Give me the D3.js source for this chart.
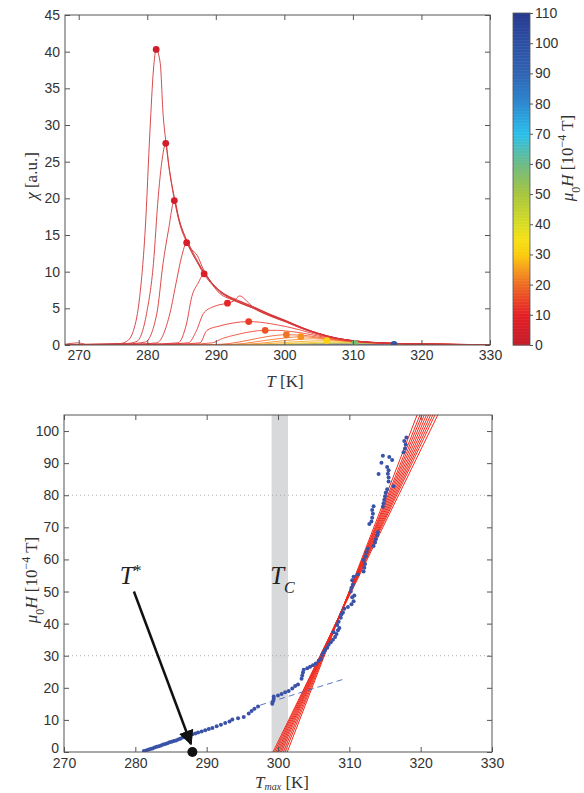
<!DOCTYPE html>
<html>
<head>
<meta charset="utf-8">
<script src="https://cdn.jsdelivr.net/npm/d3@7"></script>
<style>
body { margin: 0; background: #fff; }
svg { display: block; }
</style>
</head>
<body>
<div id="chart"></div>
<script>
// ---- data: top panel, chi(T) curves for several fields ----
const fieldH = [0, 1, 2, 3.5, 5.5, 8, 11, 14, 18, 21, 28, 55, 95];
const peakT   = [281.3, 282.7, 283.95, 285.75, 288.3, 291.7, 294.8, 297.2, 300.3, 302.4, 306.2, 310.3, 316.0];
const peakChi = [40.3, 27.5, 19.7, 13.95, 9.7, 5.7, 3.2, 2.0, 1.4, 1.13, 0.6, 0.23, 0.08];

const chiCurves = [
  [[268,0.1],[270,0.3],[271,0.1],[274,0.15],[276,0.2],[277,0.5],[278,2.0],[278.9,6.6],[279.7,15.7],[280.4,29.3],[280.9,37.5],[281.3,40.3],[281.9,38.4],[282.3,31.6],[282.7,27.8],[283.3,23.5],[284,19.9],[284.8,16.6],[285.8,14.2],[286.8,12.4],[288.3,9.9],[289.5,8.3],[290.6,7.2],[292,6.5],[293,6.1],[295.5,5.2],[297.9,4.2],[300.3,3.3],[302.5,2.4],[305,1.6],[307.6,0.95],[310,0.6],[312.5,0.38],[315,0.26],[317.5,0.18],[320,0.13],[325,0.08],[330,0.05]],
  [[268,0.05],[274,0.1],[277,0.2],[278.5,0.5],[279.9,4.3],[280.9,11.1],[281.6,20.2],[282.1,24.8],[282.7,27.5],[283.2,24],[284,19.6],[284.8,16.3],[285.8,13.9],[287,11.8],[288.3,9.6],[289.5,8.2],[290.6,7.0],[292,6.3],[293,5.9],[295.5,5.0],[297.9,4.05],[300.3,3.2],[302.5,2.35],[305,1.55],[307.6,0.93],[310,0.58],[312.5,0.37],[315,0.25],[320,0.13],[325,0.08],[330,0.05]],
  [[268,0.05],[276,0.1],[279.7,0.4],[281.4,4.3],[282.3,11.1],[283.1,15.7],[283.95,19.7],[284.6,17.2],[285.5,14.8],[286.5,12.6],[287.5,11],[288.3,9.8],[289.5,8.4],[290.6,7.3],[292,6.4],[293,6.0],[295.5,5.1],[297.9,4.1],[300.3,3.25],[302.5,2.35],[305,1.55],[307.6,0.93],[310,0.58],[315,0.25],[320,0.13],[330,0.05]],
  [[268,0.05],[278,0.1],[281.4,0.3],[283.3,4.3],[284.3,8.9],[285,12.0],[285.75,13.95],[286.5,13.0],[287.3,12.2],[288.1,10.5],[289,9.0],[290.6,7.4],[292,6.6],[293,6.2],[295.5,5.2],[297.9,4.15],[300.3,3.25],[302.5,2.4],[305,1.55],[307.6,0.93],[310,0.58],[315,0.25],[320,0.13],[330,0.05]],
  [[268,0.05],[280,0.1],[284.5,0.3],[285.75,3.0],[286.5,6.6],[287.4,8.4],[288.3,9.7],[289.2,8.7],[290.3,7.6],[291.5,6.8],[293,6.0],[295.5,5.0],[297.9,4.0],[300.3,3.15],[302.5,2.3],[305,1.5],[307.6,0.92],[310,0.57],[315,0.25],[320,0.13],[330,0.05]],
  [[268,0.05],[282,0.1],[286,0.3],[287.2,2.0],[288.2,4.3],[289.6,5.2],[290.6,5.5],[291.7,5.7],[292.6,6.0],[293.5,6.7],[294.5,6.0],[295.5,5.1],[297.9,3.95],[300.3,3.1],[302.5,2.25],[305,1.5],[307.6,0.9],[310,0.56],[315,0.25],[320,0.13],[330,0.05]],
  [[268,0.05],[284,0.1],[287.7,0.3],[288.7,2.0],[290.6,2.6],[292.5,3.0],[294.8,3.2],[296.5,3.1],[298,2.9],[300.3,2.5],[302.5,2.0],[305,1.35],[307.6,0.85],[310,0.54],[315,0.24],[320,0.13],[330,0.05]],
  [[268,0.05],[286,0.1],[289.5,0.3],[291,0.9],[293,1.4],[295,1.8],[297.2,2.0],[299,2.0],[300.3,1.9],[302.5,1.65],[305,1.2],[307.6,0.8],[310,0.5],[315,0.23],[320,0.12],[330,0.05]],
  [[268,0.03],[289,0.05],[292,0.2],[295,0.7],[297.5,1.15],[300.3,1.4],[302.5,1.35],[305,1.05],[307.6,0.72],[310,0.47],[315,0.22],[320,0.12],[330,0.05]],
  [[268,0.03],[291,0.05],[294,0.2],[297,0.6],[300,0.95],[302.4,1.13],[304.5,1.0],[307.6,0.65],[310,0.44],[315,0.21],[320,0.12],[330,0.05]],
  [[268,0.02],[293,0.03],[297,0.15],[301,0.4],[306.2,0.6],[308.5,0.52],[311,0.38],[315,0.2],[320,0.11],[330,0.05]],
  [[268,0.02],[296,0.03],[302,0.1],[306,0.18],[310.3,0.23],[313,0.2],[316,0.15],[320,0.1],[330,0.04]],
  [[268,0.01],[300,0.02],[308,0.05],[316,0.08],[320,0.07],[330,0.04]]
];
// intermediate fields drawn without a marked maximum
const extraH = [24, 35, 42];
const extraCurves = [
  [[268,0.02],[292,0.03],[296,0.2],[300,0.6],[304.3,0.85],[307,0.7],[310,0.45],[315,0.21],[320,0.11],[330,0.05]],
  [[268,0.02],[295,0.03],[299,0.12],[303,0.3],[307.5,0.42],[310,0.37],[314,0.22],[320,0.1],[330,0.04]],
  [[268,0.02],[296,0.03],[301,0.1],[305,0.22],[309,0.3],[312,0.26],[316,0.17],[320,0.1],[330,0.04]]
];

// ---- data: bottom panel, Tmax vs field ----
const tmaxPoints = [
  [281.2,0.3],[281.5,0.5],[281.8,0.7],[282.1,0.9],[282.4,1.1],[282.7,1.4],[283.0,1.6],[283.3,1.8],[283.6,2.0],[283.9,2.3],
  [284.2,2.5],[284.5,2.7],[284.8,3.0],[285.1,3.2],[285.4,3.4],[285.7,3.6],[286.0,3.9],[286.3,4.1],[286.6,4.5],[286.9,4.7],
  [287.2,5.0],[287.6,5.3],[288.0,5.5],[288.4,5.8],[288.8,6.1],[289.3,6.4],[289.8,6.8],[290.3,7.2],[290.8,7.5],[291.4,8.0],
  [292.0,8.5],[292.6,9.0],[293.2,9.5],[293.6,10.1],[294.4,10.5],[295.2,10.9],[295.9,12.0],[296.3,12.8],[296.7,13.5],[297.2,14.2],
  [299.2,15.0],[299.3,15.8],[299.4,16.6],[299.4,17.3],[300.0,17.6],[300.5,18.1],[301.0,18.6],[301.5,19.0],[302.0,19.8],[302.4,20.6],
  [302.8,21.0],[303.3,22.8],[303.4,23.8],[303.5,24.8],[303.6,25.6],[304.1,26.1],[304.5,26.6],[304.9,27.0],[305.3,27.6],[305.7,28.4],
  [306.0,29.0],[306.2,30.2],[306.4,31.0],[306.6,31.8],[306.9,32.5],[307.1,33.4],[307.4,34.2],[307.7,35.0],[308.0,35.8],[308.2,36.8],
  [307.8,37.3],[308.4,37.9],[308.6,38.6],[308.3,39.6],[308.5,40.6],[308.8,41.8],[308.9,42.9],[309.1,43.5],[309.3,44.6],[309.8,45.2],
  [310.3,46.0],[310.6,47.0],[310.4,48.2],[310.7,48.8],[310.2,50.0],[310.3,51.2],[310.5,52.2],[310.4,53.5],[310.6,54.6],[311.2,55.3],
  [312.0,56.2],[312.1,57.4],[312.2,58.6],[312.0,59.8],[312.3,61.0],[312.4,62.2],[312.6,63.3],[313.4,64.2],[313.6,65.3],[313.7,66.3],
  [313.9,67.5],[314.0,68.5],[312.8,71.0],[313.1,71.8],[313.2,73.0],[313.3,74.2],[313.2,75.4],[313.4,76.6],[314.7,76.4],[314.8,77.5],
  [314.9,78.6],[315.0,79.7],[315.1,80.8],[315.3,81.9],[316.2,82.8],[315.5,84.3],[315.5,85.5],[315.4,86.7],[314.1,86.6],[315.5,87.8],
  [315.3,88.8],[314.5,90.1],[316.0,91.0],[314.7,92.3],[315.6,91.9],[317.6,93.4],[317.8,94.6],[317.9,95.8],[317.7,96.9],[318.0,98.0]
];
const fitT0   = [299.3, 299.5, 299.7, 299.9, 300.1, 300.3, 300.5, 300.75, 301.0, 301.3];
const fitTtop = [322.4, 322.0, 321.7, 321.4, 321.1, 320.8, 320.5, 320.2, 319.9, 319.5];
const lowFit = [[297.5, 14.6], [309.5, 22.9]];
const tcBand = [299.1, 301.4];
const tStar = 288;
const gridH = [30, 80];

// ---- colour map (field, 1e-4 T) ----
const cmapStops  = [0, 10, 20, 25, 30, 35, 40, 50, 60, 70, 80, 90, 100, 110];
const cmapColors = ["#c21f2c", "#e51e26", "#ee6a25", "#f59b1f", "#fbcc10", "#f6e015", "#d8dd22", "#a8c63e",
                    "#6fbb86", "#29bfeb", "#2e8ad0", "#3063b3", "#2d4fa4", "#283c90"];

const tTicks = [270, 280, 290, 300, 310, 320, 330];
const chiTicks = [0, 5, 10, 15, 20, 25, 30, 35, 40, 45];
const hTicks = [0, 10, 20, 30, 40, 50, 60, 70, 80, 90, 100];
const cbTicks = [0, 10, 20, 30, 40, 50, 60, 70, 80, 90, 100, 110];

const W = 584, H = 793;
const tickFont = "'Liberation Sans', Arial, sans-serif";
const serif = "'Liberation Serif', 'DejaVu Serif', serif";

const color = d3.scaleLinear().domain(cmapStops).range(cmapColors).interpolate(d3.interpolateRgb);
// thin curves look lighter than the dots
const lineColor = h => d3.interpolateRgb(color(h), "#ff8060")(0.25);

const svg = d3.select("#chart").append("svg")
  .attr("width", W).attr("height", H);

function styleAxis(g) {
  g.selectAll(".domain").remove();
  g.selectAll(".tick line").attr("stroke", "#555");
  g.selectAll(".tick text").attr("fill", "#333")
    .style("font-family", tickFont).style("font-size", "14px");
}

// ================= top panel =================
const x1 = d3.scaleLinear().domain([268, 330]).range([65, 490]);
const y1 = d3.scaleLinear().domain([0, 45]).range([345, 15]);

const topG = svg.append("g");
topG.append("defs").append("clipPath").attr("id", "clip1")
  .append("rect").attr("x", 65).attr("y", 15).attr("width", 425).attr("height", 330);

const line1 = d3.line().x(d => x1(d[0])).y(d => y1(d[1])).curve(d3.curveMonotoneX);

const curvesG = topG.append("g").attr("clip-path", "url(#clip1)");
extraCurves.forEach((c, i) => {
  curvesG.append("path")
    .attr("d", line1(c))
    .attr("fill", "none")
    .attr("stroke", lineColor(extraH[i]))
    .attr("stroke-width", 0.9);
});
for (let i = chiCurves.length - 1; i >= 0; i--) {
  curvesG.append("path")
    .attr("d", line1(chiCurves[i]))
    .attr("fill", "none")
    .attr("stroke", lineColor(fieldH[i]))
    .attr("stroke-width", 0.9);
}
for (let i = peakT.length - 1; i >= 0; i--) {
  curvesG.append("circle")
    .attr("cx", x1(peakT[i])).attr("cy", y1(peakChi[i])).attr("r", 3.4)
    .attr("fill", color(fieldH[i] + 3));
}

topG.append("g").attr("transform", "translate(0,345)")
  .call(d3.axisBottom(x1).tickValues(tTicks).tickSizeInner(-5).tickSizeOuter(0).tickPadding(5))
  .call(styleAxis);
topG.append("g").attr("transform", "translate(0,15)")
  .call(d3.axisTop(x1).tickValues(tTicks).tickSizeInner(-5).tickSizeOuter(0).tickFormat(""))
  .call(styleAxis);
topG.append("g").attr("transform", "translate(65,0)")
  .call(d3.axisLeft(y1).tickValues(chiTicks).tickSizeInner(-5).tickSizeOuter(0).tickPadding(5))
  .call(styleAxis);
topG.append("g").attr("transform", "translate(490,0)")
  .call(d3.axisRight(y1).tickValues(chiTicks).tickSizeInner(-5).tickSizeOuter(0).tickFormat(""))
  .call(styleAxis);
topG.append("rect").attr("x", 65).attr("y", 15).attr("width", 425).attr("height", 330)
  .attr("fill", "none").attr("stroke", "#555").attr("stroke-width", 1);

// labels
const chiLab = topG.append("text")
  .attr("transform", "translate(37,176) rotate(-90)")
  .attr("text-anchor", "middle")
  .style("font-family", serif).style("font-size", "17px").attr("fill", "#333");
chiLab.append("tspan").style("font-style", "italic").text("χ");
chiLab.append("tspan").text(" [a.u.]");

const tLab = topG.append("text")
  .attr("x", 285).attr("y", 387).attr("text-anchor", "middle")
  .style("font-family", serif).style("font-size", "17px").attr("fill", "#333");
tLab.append("tspan").style("font-style", "italic").text("T");
tLab.append("tspan").text(" [K]");

// colorbar
const cb = d3.scaleLinear().domain([0, 110]).range([345, 13]);
const cbG = svg.append("g");
const cbSteps = d3.range(0, 110, 0.5);
cbG.selectAll("rect.cb").data(cbSteps).join("rect")
  .attr("class", "cb")
  .attr("x", 513).attr("width", 17)
  .attr("y", d => cb(d + 0.5)).attr("height", d => cb(d) - cb(d + 0.5) + 0.5)
  .attr("fill", d => color(d + 0.25));
cbG.append("rect").attr("x", 513).attr("y", 13).attr("width", 17).attr("height", 332)
  .attr("fill", "none").attr("stroke", "#555").attr("stroke-width", 0.8);
cbG.append("g").attr("transform", "translate(530,0)")
  .call(d3.axisRight(cb).tickValues(cbTicks).tickSizeInner(3).tickSizeOuter(0).tickPadding(2))
  .call(styleAxis);

const cbLab = svg.append("text")
  .attr("transform", "translate(573,158) rotate(-90)")
  .attr("text-anchor", "middle")
  .style("font-family", serif).style("font-size", "17px").attr("fill", "#333");
cbLab.append("tspan").style("font-style", "italic").text("μ");
cbLab.append("tspan").attr("baseline-shift", "sub").style("font-size", "12px").text("0");
cbLab.append("tspan").style("font-style", "italic").text("H");
cbLab.append("tspan").text(" [10");
cbLab.append("tspan").attr("baseline-shift", "super").style("font-size", "12px").text("−4");
cbLab.append("tspan").text(" T]");

// ================= bottom panel =================
const x2 = d3.scaleLinear().domain([270, 330]).range([64, 492]);
const y2 = d3.scaleLinear().domain([0, 105]).range([752, 415]);

const bot = svg.append("g");
bot.append("defs").append("clipPath").attr("id", "clip2")
  .append("rect").attr("x", 64).attr("y", 415).attr("width", 428).attr("height", 337);

// Tc band
bot.append("rect")
  .attr("x", x2(tcBand[0])).attr("width", x2(tcBand[1]) - x2(tcBand[0]))
  .attr("y", 415).attr("height", 337)
  .attr("fill", "#d8d9db");

// dotted grid
bot.selectAll("line.grid").data(gridH).join("line")
  .attr("class", "grid")
  .attr("x1", 64).attr("x2", 492)
  .attr("y1", d => y2(d)).attr("y2", d => y2(d))
  .attr("stroke", "#999").attr("stroke-width", 0.8).attr("stroke-dasharray", "1,3");

const plotG = bot.append("g").attr("clip-path", "url(#clip2)");

// red fit lines
fitT0.forEach((t0, i) => {
  plotG.append("line")
    .attr("x1", x2(t0)).attr("y1", y2(0))
    .attr("x2", x2(fitTtop[i])).attr("y2", y2(105))
    .attr("stroke", "#f02a1c").attr("stroke-width", 1);
});

// blue dashed low-field fit
plotG.append("line")
  .attr("x1", x2(lowFit[0][0])).attr("y1", y2(lowFit[0][1]))
  .attr("x2", x2(lowFit[1][0])).attr("y2", y2(lowFit[1][1]))
  .attr("stroke", "#4a66c0").attr("stroke-width", 0.9).attr("stroke-dasharray", "6,4");

// Tmax points
plotG.selectAll("circle.pt").data(tmaxPoints).join("circle")
  .attr("class", "pt")
  .attr("cx", d => x2(d[0])).attr("cy", d => y2(d[1])).attr("r", 2)
  .attr("fill", "#3a52a8");

bot.append("g").attr("transform", "translate(0,752)")
  .call(d3.axisBottom(x2).tickValues(tTicks).tickSizeInner(-5).tickSizeOuter(0).tickPadding(6))
  .call(styleAxis);
bot.append("g").attr("transform", "translate(0,415)")
  .call(d3.axisTop(x2).tickValues(tTicks).tickSizeInner(-5).tickSizeOuter(0).tickFormat(""))
  .call(styleAxis);
bot.append("g").attr("transform", "translate(64,0)")
  .call(d3.axisLeft(y2).tickValues(hTicks).tickSizeInner(-5).tickSizeOuter(0).tickPadding(5))
  .call(styleAxis)
  .call(g => g.selectAll(".tick text").filter(d => d === 0).attr("dy", "0.05em"));
bot.append("g").attr("transform", "translate(492,0)")
  .call(d3.axisRight(y2).tickValues(hTicks).tickSizeInner(-5).tickSizeOuter(0).tickFormat(""))
  .call(styleAxis);
bot.append("rect").attr("x", 64).attr("y", 415).attr("width", 428).attr("height", 337)
  .attr("fill", "none").attr("stroke", "#555").attr("stroke-width", 1);

// T* arrow and dot
const defs = svg.append("defs");
defs.append("marker").attr("id", "arrow")
  .attr("viewBox", "0 0 10 10").attr("refX", 9).attr("refY", 5)
  .attr("markerWidth", 6).attr("markerHeight", 6).attr("orient", "auto")
  .append("path").attr("d", "M0,0 L10,5 L0,10 z").attr("fill", "#111");

bot.append("line")
  .attr("x1", x2(279.8)).attr("y1", y2(50))
  .attr("x2", x2(287.8)).attr("y2", y2(2.5))
  .attr("stroke", "#111").attr("stroke-width", 2.5)
  .attr("marker-end", "url(#arrow)");
bot.append("circle").attr("cx", x2(tStar)).attr("cy", y2(0)).attr("r", 5).attr("fill", "#111");

const tsLab = bot.append("text")
  .attr("x", x2(277.8)).attr("y", y2(52.5))
  .style("font-family", serif).style("font-size", "25px").attr("fill", "#222");
tsLab.append("tspan").style("font-style", "italic").text("T");
tsLab.append("tspan").attr("baseline-shift", "super").style("font-size", "16px").text("*");

const tcLab = bot.append("text")
  .attr("x", x2(298.9)).attr("y", y2(52.5))
  .style("font-family", serif).style("font-size", "25px").attr("fill", "#222");
tcLab.append("tspan").style("font-style", "italic").text("T");
tcLab.append("tspan").attr("baseline-shift", "sub").style("font-size", "16px").style("font-style", "italic").text("C");

// axis labels
const hLab = bot.append("text")
  .attr("transform", "translate(37,580) rotate(-90)")
  .attr("text-anchor", "middle")
  .style("font-family", serif).style("font-size", "17px").attr("fill", "#333");
hLab.append("tspan").style("font-style", "italic").text("μ");
hLab.append("tspan").attr("baseline-shift", "sub").style("font-size", "12px").text("0");
hLab.append("tspan").style("font-style", "italic").text("H");
hLab.append("tspan").text(" [10");
hLab.append("tspan").attr("baseline-shift", "super").style("font-size", "12px").text("−4");
hLab.append("tspan").text(" T]");

const tmLab = bot.append("text")
  .attr("x", 282).attr("y", 788).attr("text-anchor", "middle")
  .style("font-family", serif).style("font-size", "17px").attr("fill", "#333");
tmLab.append("tspan").style("font-style", "italic").text("T");
tmLab.append("tspan").attr("baseline-shift", "-2").style("font-size", "10px").style("font-style", "italic").text("max");
tmLab.append("tspan").text(" [K]");
</script>
</body>
</html>
